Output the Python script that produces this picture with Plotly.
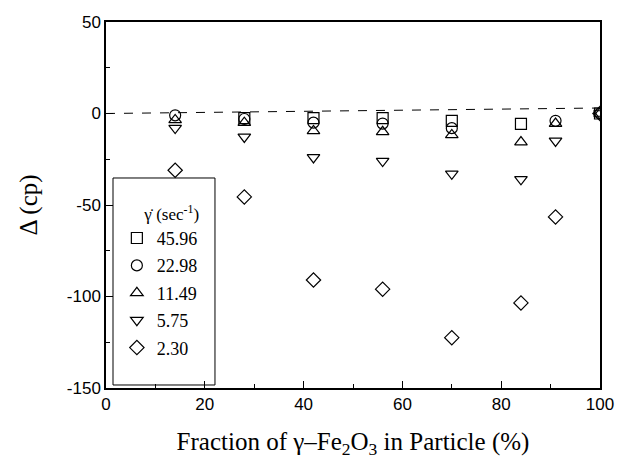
import plotly.graph_objects as go

fraction = [14, 28, 42, 56, 70, 84, 91, 100]
rates = ["45.96", "22.98", "11.49", "5.75", "2.30"]
symbols = ["square-open", "circle-open", "triangle-up-open", "triangle-down-open", "diamond-open"]
d_45_96 = [None, -2.5, -2.5, -2.5, -4, -5.7, None, 0]
d_22_98 = [-1, -3, -5, -5.5, -8, None, -4, 0]
d_11_49 = [-3.5, -5, -9.5, -10, -11.7, -15.6, -5.5, 0]
d_5_75 = [-8, -12.8, -24, -26, -33, -36, -15, 0]
d_2_30 = [-31, -45.6, -91, -96, -122.5, -103.5, -56.5, 0]
series = [d_45_96, d_22_98, d_11_49, d_5_75, d_2_30]

trend_x = [0, 100]
trend_y = [0, 3]

y_ticks = [-150, -100, -50, 0, 50]
y_ticktext = ["-150", "-100", "-50", "0", "50"]
x_ticks = [0, 20, 40, 60, 80, 100]

fig = go.Figure()
fig.add_trace(go.Scatter(x=trend_x, y=trend_y, mode="lines",
                         line=dict(color="black", width=1, dash="dash"),
                         showlegend=False, hoverinfo="skip"))
for name, sym, ys in zip(rates, symbols, series):
    fig.add_trace(go.Scatter(x=fraction, y=ys, mode="markers", name=name,
                             legendgroup=name,
                             marker=dict(symbol=sym, size=11, color="black",
                                         line=dict(color="black", width=1.2))))

serif = "Liberation Serif"
sans = "Liberation Sans"
fig.update_layout(
    width=619, height=460,
    margin=dict(l=106, r=19, t=22, b=72),
    paper_bgcolor="white", plot_bgcolor="white",
    showlegend=True,
    legend=dict(
        x=0.022, y=0.52, xanchor="left", yanchor="top",
        borderwidth=0, bgcolor="rgba(0,0,0,0)",
        font=dict(family=serif, size=18, color="black"),
        title=dict(text="      γ̇ (sec<sup>-1</sup>)", font=dict(family=serif, size=17, color="black")),
        traceorder="grouped", tracegroupgap=1,
    ),
    shapes=[dict(type="rect", xref="paper", yref="paper",
                 x0=0.0142, x1=0.2206, y0=0.0082, y1=0.5738,
                 line=dict(color="black", width=1), fillcolor="rgba(0,0,0,0)")],
    xaxis=dict(
        range=[0, 100], tickvals=x_ticks, automargin=False,
        minor=dict(tickvals=[10, 30, 50, 70, 90], ticks="inside", ticklen=4, tickcolor="black"),
        ticks="inside", ticklen=7, tickcolor="black",
        showline=True, linecolor="black", linewidth=1.5, mirror=True,
        showgrid=False, zeroline=False,
        tickfont=dict(family=sans, size=17, color="black"),
        title=dict(text="Fraction of γ–Fe<sub>2</sub>O<sub>3</sub> in Particle (%)",
                   font=dict(family=serif, size=25, color="black"), standoff=19),
    ),
    yaxis=dict(
        range=[-150, 50], tickvals=y_ticks, ticktext=y_ticktext, automargin=False,
        minor=dict(tickvals=[-125, -75, -25, 25], ticks="inside", ticklen=4, tickcolor="black"),
        ticks="inside", ticklen=7, tickcolor="black",
        showline=True, linecolor="black", linewidth=1.5, mirror=True,
        showgrid=False, zeroline=False,
        tickfont=dict(family=sans, size=17, color="black"),
        title=dict(text="Δ (cp)", font=dict(family=serif, size=25, color="black"), standoff=22),
    ),
)

fig.write_html("out.html")
